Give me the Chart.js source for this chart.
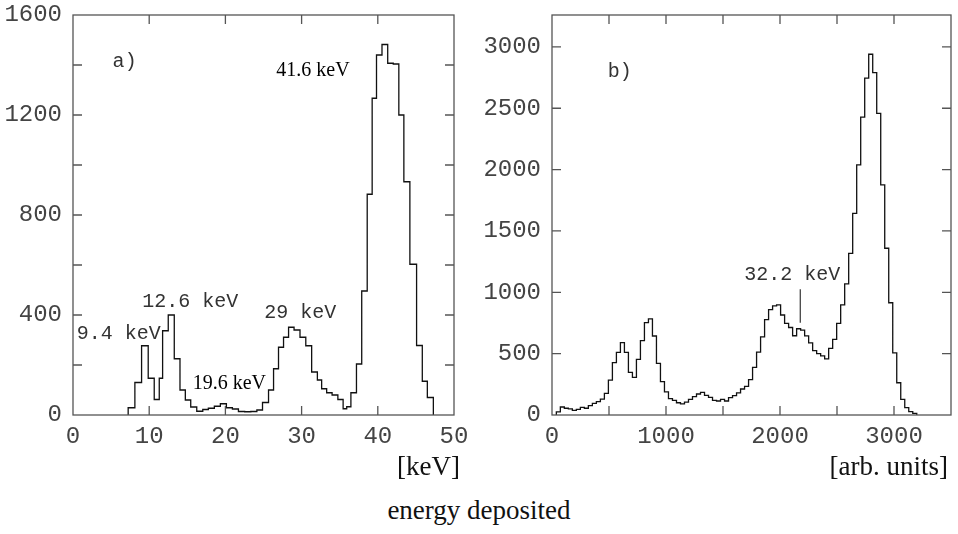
<!DOCTYPE html>
<html>
<head>
<meta charset="utf-8">
<script src="https://cdn.jsdelivr.net/npm/chart.js@4.4.1/dist/chart.umd.min.js"></script>
<style>
  html, body { margin: 0; padding: 0; background: #fff; }
  #page { position: relative; width: 958px; height: 534px; overflow: hidden; }
  #page canvas { position: absolute; top: 0; }
  #spectrumA { left: 0; }
  #spectrumB { left: 479px; }
  .axis-title {
    position: absolute;
    font-family: 'Liberation Serif', 'Times New Roman', serif;
    font-size: 27px;
    line-height: 1;
    color: #111;
    white-space: nowrap;
  }
</style>
</head>
<body>
<div id="page">
  <canvas id="spectrumA" width="479" height="460"></canvas>
  <canvas id="spectrumB" width="479" height="460"></canvas>
  <div class="axis-title" style="right: 498px; top: 453px;">[keV]</div>
  <div class="axis-title" style="right: 10px; top: 453px;">[arb. units]</div>
  <div class="axis-title" style="left: 0; width: 958px; text-align: center; top: 497px;">energy deposited</div>
</div>
<script>
// a) calibrated spectrum: bin edges in keV (calibration makes them uneven) and counts per bin
const edgesA = [7.24, 8.12, 9.00, 9.87, 10.66, 11.32, 11.76, 12.50, 13.29, 14.04, 14.74, 15.45,
  16.24, 17.03, 17.76, 18.55, 19.34, 20.13, 20.92, 21.71, 22.53, 23.34, 24.13, 24.87, 25.66,
  26.32, 26.97, 27.63, 28.29, 29.01, 29.79, 30.55, 31.32, 32.07, 32.63, 33.29, 34.00, 34.76,
  35.45, 35.92, 36.47, 37.20, 37.89, 38.61, 39.26, 39.83, 40.55, 41.30, 42.03, 42.76, 43.42,
  44.21, 45.09, 45.84, 46.50, 47.29]
const countsA = [29, 130, 277, 147, 62, 147, 337, 400, 225, 100, 60, 32, 15, 22, 27, 35, 45,
  29, 24, 14, 13, 14, 20, 50, 100, 185, 271, 311, 351, 340, 311, 277, 172, 140, 105, 89, 80,
  62, 25, 33, 89, 204, 496, 883, 1267, 1440, 1482, 1407, 1404, 1200, 933, 603, 278, 135, 70]
const xTicksA = [0, 10, 20, 30, 40, 50]
const yTicksA = [0, 200, 400, 600, 800, 1000, 1200, 1400, 1600]

// b) raw spectrum: equal bins in arbitrary units
const binStartB = 38
const binWidthB = 35.13
const countsB = [25, 65, 55, 50, 38, 46, 62, 55, 76, 95, 109, 130, 177, 285, 427, 511, 590,
  511, 348, 307, 454, 606, 753, 783, 644, 420, 272, 188, 134, 120, 100, 90, 105, 128, 150,
  171, 185, 160, 144, 120, 114, 128, 114, 142, 158, 180, 212, 234, 288, 388, 513, 637, 777,
  858, 890, 898, 815, 747, 713, 646, 703, 692, 645, 588, 524, 500, 482, 457, 543, 617, 747,
  897, 1068, 1318, 1644, 2038, 2427, 2745, 2940, 2791, 2459, 1875, 1359, 915, 507, 263, 128,
  60, 27, 14]
const xTicksB = [0, 500, 1000, 1500, 2000, 2500, 3000, 3500]
const yTicksB = [0, 500, 1000, 1500, 2000, 2500, 3000]

const edgesB = countsB.map((_, i) => binStartB + i * binWidthB)
edgesB.push(binStartB + countsB.length * binWidthB)

const MONO = "'Liberation Mono', 'Courier New', monospace"
const SERIF = "'Liberation Serif', 'Times New Roman', serif"

// peak labels, placed in data coordinates
const notesA = [
  { text: 'a)', x: 5.2, y: 1412, font: MONO },
  { text: '41.6 keV', x: 31.5, y: 1376, font: SERIF, align: 'center' },
  { text: '9.4 keV', x: 0.5, y: 324, font: MONO },
  { text: '12.6 keV', x: 9.1, y: 452, font: MONO },
  { text: '19.6 keV', x: 15.7, y: 124, font: SERIF },
  { text: '29 keV', x: 25.1, y: 408, font: MONO }
]
const notesB = [
  { text: 'b)', x: 490, y: 2796, font: MONO },
  { text: '32.2 keV', x: 1686, y: 1141, font: MONO }
]
const markersB = [{ x: 2178, from: 752, to: 1025 }]

function stepPoints(edges, counts) {
  const pts = [{ x: edges[0], y: 0 }]
  counts.forEach((c, i) => pts.push({ x: edges[i], y: c }))
  pts.push({ x: edges[edges.length - 1], y: 0 })
  return pts
}

// box around the plot with inward tick marks on all four sides
const frameTicks = {
  id: 'frameTicks',
  afterDatasetsDraw(chart) {
    const { ctx, chartArea: a, scales: { x, y } } = chart
    const len = 9
    ctx.save()
    ctx.strokeStyle = '#555'
    ctx.lineWidth = 1.3
    ctx.strokeRect(a.left, a.top, a.right - a.left, a.bottom - a.top)
    ctx.beginPath()
    x.ticks.forEach((t) => {
      if (t.value <= x.min || t.value >= x.max) return
      const px = x.getPixelForValue(t.value)
      ctx.moveTo(px, a.bottom)
      ctx.lineTo(px, a.bottom - len)
      ctx.moveTo(px, a.top)
      ctx.lineTo(px, a.top + len)
    })
    y.ticks.forEach((t) => {
      if (t.value <= y.min || t.value >= y.max) return
      const py = y.getPixelForValue(t.value)
      ctx.moveTo(a.left, py)
      ctx.lineTo(a.left + len, py)
      ctx.moveTo(a.right, py)
      ctx.lineTo(a.right - len, py)
    })
    ctx.stroke()
    ctx.restore()
  }
}

const peakNotes = {
  id: 'peakNotes',
  afterDatasetsDraw(chart, args, opts) {
    const { ctx, scales: { x, y } } = chart
    ctx.save()
    ctx.textBaseline = 'middle'
    ;(opts.items || []).forEach((n) => {
      ctx.font = `20px ${n.font}`
      ctx.fillStyle = n.font === SERIF ? '#000' : '#333'
      ctx.textAlign = n.align || 'left'
      ctx.fillText(n.text, x.getPixelForValue(n.x), y.getPixelForValue(n.y))
    })
    ctx.strokeStyle = '#444'
    ctx.lineWidth = 1.3
    ;(opts.markers || []).forEach((m) => {
      const px = x.getPixelForValue(m.x)
      ctx.beginPath()
      ctx.moveTo(px, y.getPixelForValue(m.from))
      ctx.lineTo(px, y.getPixelForValue(m.to))
      ctx.stroke()
    })
    ctx.restore()
  }
}

function fixedSize(size) {
  return (scale) => {
    if (scale.isHorizontal()) scale.height = size
    else scale.width = size
    scale.paddingLeft = 0
    scale.paddingRight = 0
    scale.paddingTop = 0
    scale.paddingBottom = 0
  }
}

function tickList(values) {
  return (scale) => {
    scale.ticks = values.map((v) => ({ value: v }))
  }
}

function makeSpectrum(canvas, cfg) {
  return new Chart(canvas.getContext('2d'), {
    type: 'line',
    data: {
      datasets: [{
        data: stepPoints(cfg.edges, cfg.counts),
        stepped: true,
        borderColor: '#111',
        borderWidth: 1.3,
        pointRadius: 0,
        fill: false
      }]
    },
    options: {
      responsive: false,
      animation: false,
      events: [],
      layout: { padding: cfg.padding },
      plugins: {
        legend: { display: false },
        tooltip: { enabled: false },
        peakNotes: { items: cfg.notes, markers: cfg.markers || [] }
      },
      scales: {
        x: {
          type: 'linear',
          min: 0,
          max: cfg.xMax,
          grid: { display: false, drawTicks: false },
          border: { display: false },
          afterBuildTicks: tickList(cfg.xTicks),
          afterFit: fixedSize(45),
          ticks: {
            maxRotation: 0,
            autoSkip: false,
            padding: 7,
            color: '#444',
            font: { family: MONO, size: 24 },
            callback: (v) => (v % cfg.xLabelEvery === 0 ? v : '')
          }
        },
        y: {
          type: 'linear',
          min: 0,
          max: cfg.yMax,
          grid: { display: false, drawTicks: false },
          border: { display: false },
          afterBuildTicks: tickList(cfg.yTicks),
          afterFit: fixedSize(73),
          ticks: {
            autoSkip: false,
            padding: 11,
            color: '#444',
            font: { family: MONO, size: 24 },
            callback: (v) => (v % cfg.yLabelEvery === 0 ? v : '')
          }
        }
      }
    },
    plugins: [frameTicks, peakNotes]
  })
}

makeSpectrum(document.getElementById('spectrumA'), {
  edges: edgesA,
  counts: countsA,
  notes: notesA,
  xMax: 50, xTicks: xTicksA, xLabelEvery: 10,
  yMax: 1600, yTicks: yTicksA, yLabelEvery: 400,
  padding: { left: 0, top: 15, right: 25, bottom: 0 }
})

makeSpectrum(document.getElementById('spectrumB'), {
  edges: edgesB,
  counts: countsB,
  notes: notesB,
  markers: markersB,
  xMax: 3500, xTicks: xTicksB, xLabelEvery: 1000,
  yMax: 3260, yTicks: yTicksB, yLabelEvery: 500,
  padding: { left: 0, top: 15, right: 7, bottom: 0 }
})
</script>
</body>
</html>
